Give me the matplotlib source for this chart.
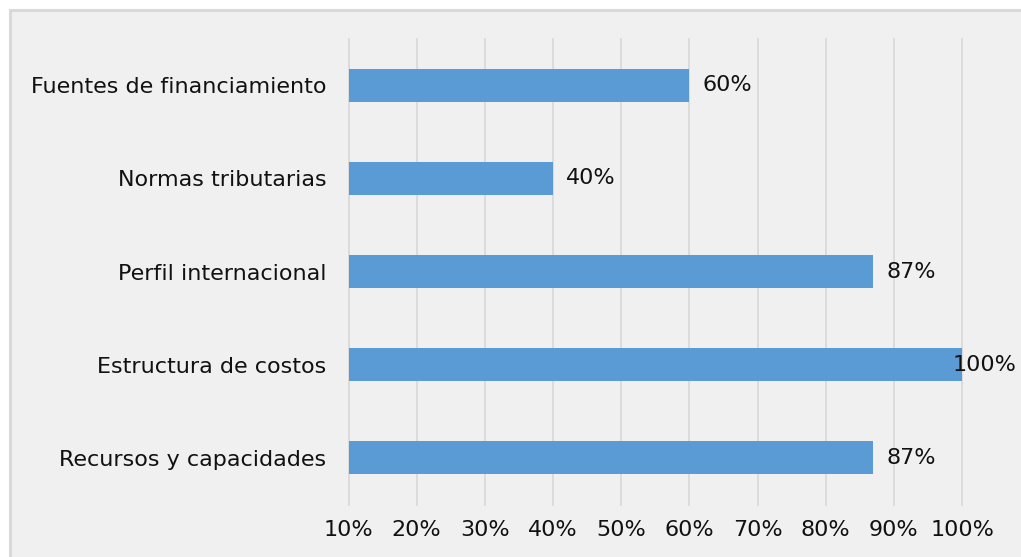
import matplotlib.pyplot as plt
from matplotlib.patches import Rectangle
from matplotlib.ticker import PercentFormatter

categories = ['Fuentes de financiamiento', 'Normas tributarias', 'Perfil internacional',
              'Estructura de costos', 'Recursos y capacidades']
values = [60, 40, 87, 100, 87]
ticks = [10, 20, 30, 40, 50, 60, 70, 80, 90, 100]

W, H = 1021, 557
FS = 16
plt.rcParams['font.family'] = ['DejaVu Sans']
fig = plt.figure(figsize=(W / 100, H / 100), dpi=100, facecolor='white')

# grey chart area with light border
fig.patches.append(Rectangle((9.5 / W, -0.1), 1.2, 1.1 - 10 / H, transform=fig.transFigure,
                             facecolor='#f0f0f0', edgecolor='#d9d9d9', linewidth=2.2,
                             zorder=-1))

ax = fig.add_axes([348.5 / W, 1 - 504.5 / H, 613.5 / W, 466 / H])
ax.set_facecolor('none')

y = range(len(categories))
xmin = ticks[0]
ax.barh(y, [v - xmin for v in values], left=xmin, height=0.355, color='#5b9bd5', zorder=3)

for i, v in enumerate(values):
    off = 13 if v < 100 else -9
    ax.annotate(f'{v}%', (v, i), xytext=(off, 0), textcoords='offset pixels',
                ha='left', va='center', fontsize=FS, color='#111111', zorder=4,
                annotation_clip=False)

ax.set_xlim(xmin, ticks[-1])
ax.set_ylim(len(categories) - 0.5, -0.5)
ax.set_xticks(ticks)
ax.xaxis.set_major_formatter(PercentFormatter(decimals=0))
ax.set_yticks(list(y))
ax.set_yticklabels(categories)
ax.grid(axis='x', color='#d9d9d9', linewidth=1.3, zorder=0)
for gl in ax.get_xgridlines():
    gl.set_clip_on(False)
for s in ax.spines.values():
    s.set_visible(False)
ax.tick_params(axis='x', length=0, pad=11, labelsize=FS, labelcolor='#111111')
ax.tick_params(axis='y', length=0, pad=16, labelsize=FS, labelcolor='#111111')

fig.savefig('out.png', dpi=100, facecolor='white')
